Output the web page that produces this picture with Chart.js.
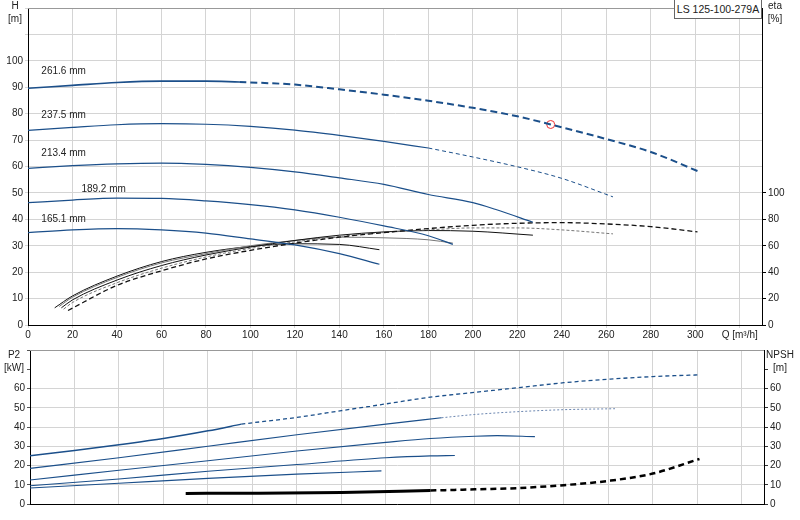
<!DOCTYPE html>
<html>
<head>
<meta charset="utf-8">
<script src="https://cdn.jsdelivr.net/npm/chart.js@4"></script>
<style>
  body { margin: 0; background: #fff; width: 800px; height: 520px; overflow: hidden; font-family: "Liberation Sans", Arial, sans-serif; }
  .box { position: absolute; left: 0; width: 800px; }
  #legendBox { position: absolute; left: 674px; top: 0; width: 86px; height: 18px; border: 1px solid #666; border-top: none; background: #fff;
    font-size: 10.5px; line-height: 18px; text-align: center; color: #222; z-index: 2; }
</style>
</head>
<body>
<div class="box" style="top:0;height:340px"><canvas id="topChart"></canvas></div>
<div class="box" style="top:340px;height:180px"><canvas id="botChart"></canvas></div>
<div id="legendBox">LS 125-100-279A</div>
<script>
// impeller diameters
const diameters = ["261.6 mm", "237.5 mm", "213.4 mm", "189.2 mm", "165.1 mm"];
const labelPos = [[6, 95], [6, 78.5], [6, 64], [24, 50.5], [6, 39]];

// H curves [Q, H]
const h261Solid = [[0,89.6],[20,90.7],[40,91.8],[60,92.3],[80,92.3],[95,92.0]];
const h261Dash = [[95,92.0],[120,91],[140,89.2],[160,87.2],[180,84.9],[200,82.2],[220,79],[235,75.9],[260,70.4],[280,65.5],[301,58.3]];
const h237Solid = [[0,73.7],[20,74.8],[40,75.8],[60,76.2],[80,76.0],[100,75.2],[120,73.8],[140,71.8],[160,69.5],[180,67.0]];
const h237Dash = [[180,67.0],[200,63.6],[220,59.9],[240,55.5],[263,48.5]];
const h213 = [[0,59.3],[20,60.3],[40,61.0],[60,61.3],[80,60.8],[100,59.7],[120,58.0],[140,55.7],[160,53.2],[180,49.4],[200,46.3],[210,43.8],[227,38.9]];
const h189 = [[0,46.3],[20,47.3],[40,48.0],[60,47.9],[80,47.0],[100,45.6],[120,43.6],[140,40.8],[160,37.5],[180,33.8],[191,30.5]];
const h165 = [[0,35],[20,36],[40,36.5],[60,36],[80,34.8],[100,32.6],[120,30.3],[140,27],[158,23]];
const dutyPoint = [[235,75.9]];

// efficiency curves [Q, eta %]
const eta261 = [[18,11],[40,30],[60,41],[80,50],[100,56.5],[120,62],[140,66.5],[160,70],[180,73],[200,75.5],[220,77],[240,77.5],[260,76.5],[280,74.5],[301,70.5]];
const eta237 = [[16,12],[20,17],[40,32],[60,43],[80,51.5],[100,58],[120,63],[140,67],[160,70],[180,72],[200,73.5],[220,73.5],[240,72],[263,69]];
const eta213 = [[15,13],[20,19],[40,34],[60,45],[80,53],[100,59],[120,64],[140,68],[160,70.5],[180,71.5],[200,71],[227,68]];
const eta189 = [[14,14],[20,21],[40,36],[60,47],[80,54],[100,60],[120,64],[140,66.5],[160,66],[180,64.5],[191,62]];
const eta165 = [[12,13],[20,22],[40,37],[60,48],[80,55],[100,59.5],[120,61.5],[140,61],[158,57]];

// power curves [Q, P2 kW]
const p261Solid = [[0,25],[20,27.8],[40,30.8],[60,34],[80,38],[95,41.5]];
const p261Dash = [[95,41.5],[120,45],[140,48.5],[160,52],[180,55.5],[200,58],[220,60.5],[240,63],[260,64.8],[280,66.2],[301,67.1]];
const p237Solid = [[0,18.5],[40,24],[80,30],[120,36],[160,41.5],[185,44.8]];
const p237Dash = [[185,44.8],[200,46.5],[220,48],[240,49],[263,49.5]];
const p213 = [[0,12.5],[40,17.5],[80,22.5],[120,27.5],[160,32],[180,34],[200,35.2],[210,35.5],[227,35]];
const p189 = [[0,9.5],[40,13],[80,17],[120,20.5],[160,24],[180,25],[191,25.2]];
const p165 = [[0,8.3],[40,10.8],[80,13.3],[120,15.5],[158,17.2]];

// NPSH [Q, m]
const npshSolid = [[70,5.5],[100,5.6],[140,6.0],[180,7.0]];
const npshDash = [[180,7.0],[200,7.6],[220,8.3],[240,9.8],[260,12],[280,15.8],[301,23.4]];

const xTicks = [0,20,40,60,80,100,120,140,160,180,200,220,240,260,280,300,320];
const BLUE = '#1b4f8a', FONT = { family: 'Liberation Sans', size: 10 };

const pts = a => a.map(p => ({ x: p[0], y: p[1] }));
function line(data, color, width, dash, axis) {
  return { type: 'line', data: pts(data), borderColor: color, borderWidth: width, borderDash: dash || [],
    pointRadius: 0, tension: 0.4, cubicInterpolationMode: 'monotone', fill: false, yAxisID: axis || 'y' };
}
function fixW(w) { return s => { s.width = w; }; }
function fixH(h) { return s => { s.height = h; }; }

const textPlugin = {
  id: 'texts',
  afterDraw(chart, args, opts) {
    const c = chart.ctx, a = chart.chartArea;
    c.save();
    c.font = '10px "Liberation Sans"'; c.fillStyle = '#222';
    (opts.items || []).forEach(t => {
      c.textAlign = t.align || 'left';
      const x = t.data ? chart.scales.x.getPixelForValue(t.x) : t.x;
      const y = t.data ? chart.scales.y.getPixelForValue(t.y) : t.y;
      c.fillText(t.text, x, y);
    });
    c.strokeStyle = '#999'; c.lineWidth = 1;
    c.beginPath(); c.moveTo(a.left, a.top + 0.5); c.lineTo(a.right, a.top + 0.5); c.stroke();
    c.restore();
  }
};

const topItems = diameters.map((d, i) => ({ text: d, x: labelPos[i][0], y: labelPos[i][1], data: true }));
topItems.push({ text: 'H', x: 15, y: 9, align: 'center' }, { text: '[m]', x: 15, y: 22, align: 'center' },
  { text: 'eta', x: 775, y: 9, align: 'center' }, { text: '[%]', x: 775, y: 22, align: 'center' });

new Chart(document.getElementById('topChart'), {
  data: { datasets: [
    line(h261Solid, BLUE, 1.6), line(h261Dash, BLUE, 2, [7, 4]),
    line(h237Solid, BLUE, 1.2), line(h237Dash, BLUE, 1, [4, 3]),
    line(h213, BLUE, 1.2), line(h189, BLUE, 1.2), line(h165, BLUE, 1.2),
    line(eta261, '#111', 1.3, [5, 3], 'eta'), line(eta237, '#666', 0.9, [3, 2], 'eta'),
    line(eta213, '#111', 1, null, 'eta'), line(eta189, '#777', 1, null, 'eta'), line(eta165, '#111', 1, null, 'eta'),
    { type: 'scatter', data: pts(dutyPoint), pointRadius: 4, borderColor: '#e33', borderWidth: 1, backgroundColor: '#fff' }
  ]},
  options: {
    responsive: true, maintainAspectRatio: false, animation: false,
    layout: { padding: { top: 2, left: 0, right: 0, bottom: 0 } },
    plugins: { legend: { display: false }, tooltip: { enabled: false },
      texts: { items: topItems } },
    scales: {
      x: { type: 'linear', min: 0, max: 330, afterFit: fixH(15), afterBuildTicks: s => { s.ticks = xTicks.map(v => ({ value: v })); },
        ticks: { font: FONT, color: '#222', padding: 1, maxRotation: 0, callback: v => v === 320 ? 'Q [m³/h]' : v },
        grid: { color: '#d4d4d4', tickLength: 3 }, border: { color: '#000' } },
      y: { min: 0, max: 120, afterFit: fixW(28),
        ticks: { stepSize: 10, font: FONT, color: '#222', padding: 2, callback: v => v <= 100 ? v : '' },
        grid: { color: '#d4d4d4', tickLength: 3 }, border: { color: '#000' } },
      eta: { position: 'right', min: 0, max: 240, afterFit: fixW(38),
        ticks: { stepSize: 20, font: FONT, color: '#222', padding: 2, callback: v => v <= 100 ? v : '' },
        grid: { drawOnChartArea: false, tickLength: 4, color: c => c.tick && c.tick.value <= 100 ? '#000' : 'rgba(0,0,0,0)' },
        border: { color: '#000' } }
    }
  },
  plugins: [textPlugin]
});

new Chart(document.getElementById('botChart'), {
  data: { datasets: [
    line(p261Solid, BLUE, 1.5), line(p261Dash, BLUE, 1.3, [4, 3]),
    line(p237Solid, BLUE, 1.1), line(p237Dash, '#6b86b0', 1, [2, 2]),
    line(p213, BLUE, 1.1), line(p189, BLUE, 1.1), line(p165, BLUE, 1.1),
    line(npshSolid, '#000', 3, null, 'npsh'), line(npshDash, '#000', 2.5, [6, 4], 'npsh')
  ]},
  options: {
    responsive: true, maintainAspectRatio: false, animation: false,
    layout: { padding: { top: 10, left: 0, right: 0, bottom: 0 } },
    plugins: { legend: { display: false }, tooltip: { enabled: false },
      texts: { items: [
        { text: 'P2', x: 14, y: 18, align: 'center' }, { text: '[kW]', x: 14, y: 31, align: 'center' },
        { text: 'NPSH', x: 780, y: 18, align: 'center' }, { text: '[m]', x: 780, y: 31, align: 'center' }] } },
    scales: {
      x: { type: 'linear', min: 0, max: 330, afterFit: fixH(16), afterBuildTicks: s => { s.ticks = xTicks.map(v => ({ value: v })); },
        ticks: { display: false }, grid: { color: '#d4d4d4', tickLength: 0 }, border: { color: '#000' } },
      y: { min: 0, max: 80, afterFit: fixW(30),
        ticks: { stepSize: 10, font: FONT, color: '#222', padding: 2, callback: v => v <= 60 ? v : '' },
        grid: { color: c => c.tick && c.tick.value <= 60 ? '#d4d4d4' : 'rgba(0,0,0,0)', tickLength: 3, tickColor: '#555' }, border: { color: '#000' } },
      npsh: { position: 'right', min: 0, max: 80, afterFit: fixW(36),
        ticks: { stepSize: 10, font: FONT, color: '#222', padding: 2, callback: v => v <= 60 ? v : '' },
        grid: { drawOnChartArea: false, tickLength: 4, color: c => c.tick && c.tick.value < 80 ? '#333' : 'rgba(0,0,0,0)' },
        border: { color: '#000' } }
    }
  },
  plugins: [textPlugin]
});
</script>
</body>
</html>
